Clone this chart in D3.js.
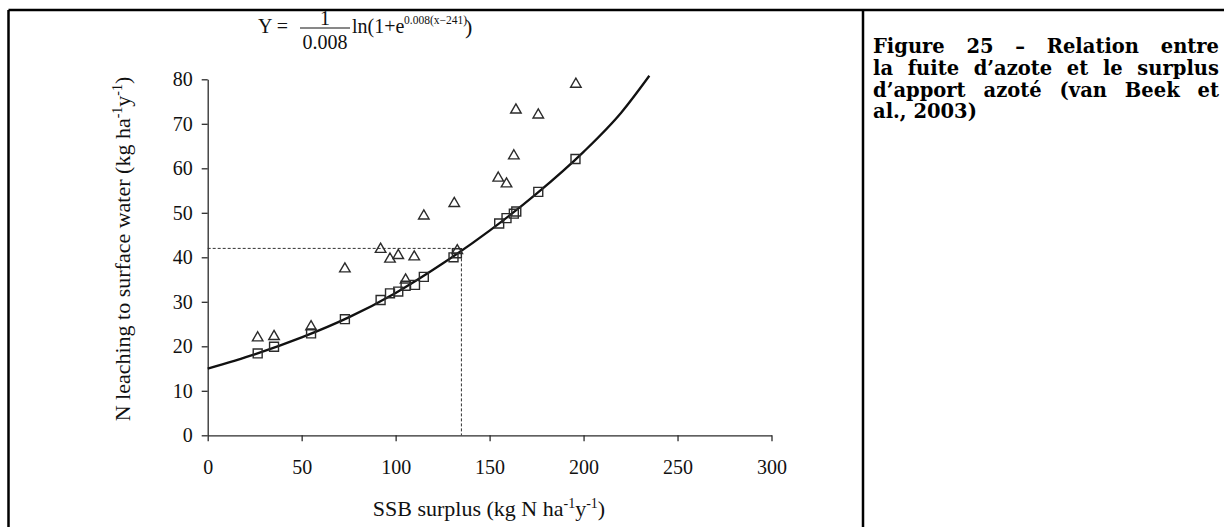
<!DOCTYPE html>
<html>
<head>
<meta charset="utf-8">
<script src="https://cdn.jsdelivr.net/npm/d3@7"></script>
<style>
  html, body { margin: 0; padding: 0; background: #fff; }
  svg { display: block; }
</style>
</head>
<body>
<svg id="chart" width="1224" height="527"></svg>
<script>
// Axis ticks
const xTicks = [0, 50, 100, 150, 200, 250, 300];
const yTicks = [0, 10, 20, 30, 40, 50, 60, 70, 80];

// Modelled leaching (squares, on the fitted curve)
const squareX = [26.6, 35.3, 55.0, 73.0, 92.0, 97.0, 101.4, 105.3, 110.3, 115.0, 130.8, 132.6, 155.1, 159.0, 162.9, 164.2, 175.9, 195.7];
const squareY = [18.4, 19.9, 22.9, 26.1, 30.4, 31.9, 32.3, 33.6, 33.8, 35.6, 40.0, 40.9, 47.6, 48.8, 49.8, 50.3, 54.7, 62.1];

// Measured leaching (triangles)
const triangleX = [26.6, 35.3, 55.0, 73.0, 92.0, 97.0, 101.4, 105.3, 109.9, 115.0, 131.2, 132.8, 154.6, 159.0, 162.9, 164.0, 175.9, 195.9];
const triangleY = [21.9, 22.2, 24.4, 37.4, 41.8, 39.6, 40.4, 34.9, 40.1, 49.3, 52.1, 41.5, 57.8, 56.5, 62.8, 73.1, 72.0, 78.9];

// Fitted response curve
const curveX = [0, 25, 50, 75, 100, 125, 150, 175, 200, 220, 235];
const curveY = [15.0, 18.2, 22.0, 26.5, 32.0, 38.6, 46.0, 54.3, 63.7, 72.5, 80.8];

// Reading guide (dashed)
const guideX = 135;
const guideY = 42;

const captionLines = [
  "Figure 25 \u2013 Relation entre",
  "la fuite d\u2019azote et le surplus",
  "d\u2019apport azot\u00e9 (van Beek et",
  "al., 2003)"
];

const serif = "'Liberation Serif', 'Times New Roman', Times, serif";
const ink = "#2b2b2b";

const svg = d3.select("#chart");

// Table frame around the figure and its caption
const frame = svg.append("g").attr("stroke", "#000").attr("stroke-width", 2.5);
frame.append("line").attr("x1", 8.5).attr("x2", 1224).attr("y1", 10).attr("y2", 10);
frame.append("line").attr("x1", 8.5).attr("x2", 8.5).attr("y1", 10).attr("y2", 527);
frame.append("line").attr("x1", 863).attr("x2", 863).attr("y1", 10).attr("y2", 527);

const x = d3.scaleLinear().domain([0, 300]).range([207.7, 771.5]);
const y = d3.scaleLinear().domain([0, 80]).range([435.3, 79.3]);

// Axes
const xAxis = svg.append("g")
  .attr("transform", `translate(0,${y(0)})`)
  .call(d3.axisBottom(x).tickValues(xTicks).tickSize(6).tickSizeOuter(0).tickPadding(19));
const yAxis = svg.append("g")
  .attr("transform", `translate(${x(0)},0)`)
  .call(d3.axisLeft(y).tickValues(yTicks).tickSize(6).tickSizeOuter(0).tickPadding(9));

[xAxis, yAxis].forEach(g => {
  g.selectAll("path, line").attr("stroke", ink).attr("stroke-width", 1.3);
  g.selectAll("text").attr("font-family", serif).attr("font-size", 20).attr("fill", "#111");
});

// Dashed reading guide
const guide = svg.append("g").attr("stroke", "#333").attr("stroke-width", 1).attr("stroke-dasharray", "3,2").attr("fill", "none");
guide.append("line").attr("x1", x(0)).attr("x2", x(guideX)).attr("y1", y(guideY)).attr("y2", y(guideY));
guide.append("line").attr("x1", x(guideX)).attr("x2", x(guideX)).attr("y1", y(guideY)).attr("y2", y(0));

// Fitted curve
const line = d3.line().x(d => x(d[0])).y(d => y(d[1])).curve(d3.curveMonotoneX);
svg.append("path")
  .datum(curveX.map((v, i) => [v, curveY[i]]))
  .attr("d", line)
  .attr("fill", "none")
  .attr("stroke", "#111")
  .attr("stroke-width", 2.3);

// Markers
const squareSym = d3.symbol().type(d3.symbolSquare).size(80);
const triSym = d3.symbol().type(d3.symbolTriangle).size(48);

svg.append("g").selectAll("path")
  .data(squareX.map((v, i) => [v, squareY[i]]))
  .join("path")
  .attr("d", squareSym)
  .attr("transform", d => `translate(${x(d[0])},${y(d[1])})`)
  .attr("fill", "none").attr("stroke", ink).attr("stroke-width", 1.4);

svg.append("g").selectAll("path")
  .data(triangleX.map((v, i) => [v, triangleY[i]]))
  .join("path")
  .attr("d", triSym)
  .attr("transform", d => `translate(${x(d[0])},${y(d[1])})`)
  .attr("fill", "none").attr("stroke", ink).attr("stroke-width", 1.4);

// Axis titles with superscripts
function unitTitle(sel, prefix) {
  sel.append("tspan").text(prefix + "ha");
  sel.append("tspan").attr("dy", -8).attr("font-size", 14).text("-1");
  sel.append("tspan").attr("dy", 8).text("y");
  sel.append("tspan").attr("dy", -8).attr("font-size", 14).text("-1");
  sel.append("tspan").attr("dy", 8).text(")");
}

const xTitle = svg.append("text")
  .attr("x", 489).attr("y", 516)
  .attr("text-anchor", "middle")
  .attr("font-family", serif).attr("font-size", 22).attr("fill", "#111");
unitTitle(xTitle, "SSB surplus (kg N ");

const yTitle = svg.append("text")
  .attr("transform", "translate(130,249) rotate(-90)")
  .attr("text-anchor", "middle")
  .attr("font-family", serif).attr("font-size", 22).attr("fill", "#111");
unitTitle(yTitle, "N leaching to surface water (kg ");

// Equation of the fitted curve
const eq = svg.append("g").attr("font-family", serif).attr("fill", "#111");
eq.append("text").attr("x", 258).attr("y", 33).attr("font-size", 20).text("Y =");
eq.append("text").attr("x", 325).attr("y", 24.5).attr("font-size", 20).attr("text-anchor", "middle").text("1");
eq.append("line").attr("x1", 300).attr("x2", 350).attr("y1", 28).attr("y2", 28).attr("stroke", "#111").attr("stroke-width", 1);
eq.append("text").attr("x", 325).attr("y", 49).attr("font-size", 20).attr("text-anchor", "middle").text("0.008");
eq.append("text").attr("x", 352).attr("y", 33).attr("font-size", 20).text("ln(1+e");
eq.append("text").attr("x", 404).attr("y", 24).attr("font-size", 11.5).text("0.008(x\u2212241)");
eq.append("text").attr("x", 465).attr("y", 34).attr("font-size", 22).text(")");

// Caption, justified to the column width
const capLeft = 873, capRight = 1219;
const cap = svg.append("g")
  .attr("font-family", "'DejaVu Serif', serif")
  .attr("font-weight", "bold")
  .attr("font-size", 19.5)
  .attr("fill", "#000");
captionLines.forEach((txt, i) => {
  const t = cap.append("text").attr("x", capLeft).attr("y", 53 + i * 21.8).text(txt);
  if (i < captionLines.length - 1) {
    const w = t.node().getComputedTextLength();
    const gaps = (txt.match(/ /g) || []).length;
    if (gaps > 0) t.attr("word-spacing", (capRight - capLeft - w) / gaps);
  }
});
</script>
</body>
</html>
